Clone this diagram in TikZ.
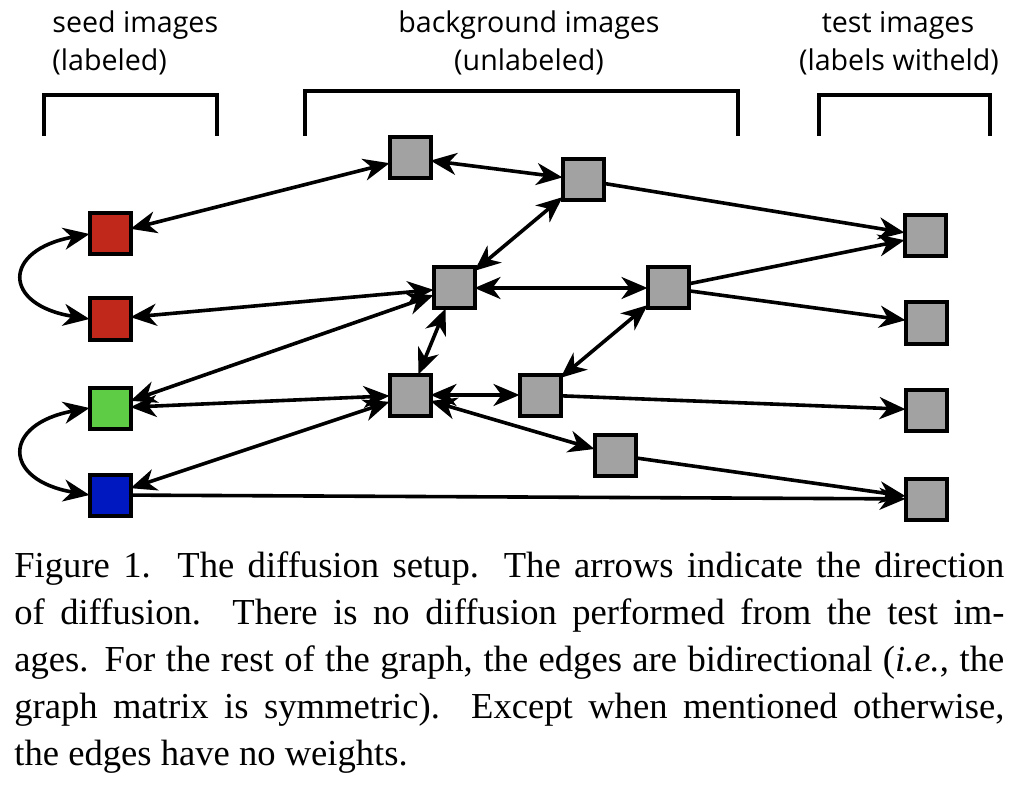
\documentclass[tikz,border=0pt]{standalone}
\usepackage{fontspec}
\setmainfont{Liberation Serif}
\newfontfamily\labfont{Open Sans}
\usetikzlibrary{arrows.meta}
\definecolor{seedred}{HTML}{C0281C}
\definecolor{seedgreen}{HTML}{5ECC44}
\definecolor{seedblue}{HTML}{0018C0}
\definecolor{imggray}{HTML}{A2A2A2}
\begin{document}
\begin{tikzpicture}[x=0.5pt,y=-0.5pt,
  img/.style={draw=black, line width=2pt, minimum size=20.5pt, inner sep=0pt, outer sep=0pt},
  gimg/.style={img, fill=imggray},
  tip/.tip={Stealth[length=13pt,width=11pt,inset=4pt]},
  edge/.style={line width=1.8pt, tip-tip},
  oneway/.style={line width=1.8pt, -tip},
  bracket/.style={line width=2pt},
  lab/.style={font=\labfont\fontsize{14.3pt}{19pt}\selectfont, inner sep=0pt}]
\useasboundingbox (0,0) rectangle (1028,786);

% labels
\node[lab, anchor=base west] (l1a) at (52,33) {seed images};
\node[lab, anchor=base west] (l1b) at (52,71) {(labeled)};
\node[lab, anchor=base] (l2a) at (529,33) {background images};
\node[lab, anchor=base] (l2b) at (529,71) {(unlabeled)};
\node[lab, anchor=base] (l3a) at (898,33) {test images};
\node[lab, anchor=base] (l3b) at (899,71) {(labels witheld)};

% brackets
\draw[bracket] (44,136) -- (44,95) -- (217,95) -- (217,136);
\draw[bracket] (305,136) -- (305,91) -- (738,91) -- (738,136);
\draw[bracket] (819,136) -- (819,95) -- (990,95) -- (990,136);

% seed images
\node[img, fill=seedred] (r1) at (110,234) {};
\node[img, fill=seedred] (r2) at (110,319) {};
\node[img, fill=seedgreen] (gr) at (110,408) {};
\node[img, fill=seedblue] (bl) at (110,495) {};

% background images
\node[gimg] (g1) at (410,158) {};
\node[gimg] (g2) at (583,180) {};
\node[gimg] (g3) at (454,288) {};
\node[gimg] (g4) at (668,288) {};
\node[gimg] (g5) at (410,395) {};
\node[gimg] (g6) at (540,395) {};
\node[gimg] (g7) at (615,455) {};

% test images
\node[gimg] (t1) at (925,236) {};
\node[gimg] (t2) at (926,323) {};
\node[gimg] (t3) at (926,410) {};
\node[gimg] (t4) at (926,499) {};

% edges
\draw[edge] (r1.west) .. controls (2,250) and (2,305) .. (r2.west);
\draw[edge] (gr.west) .. controls (2,424) and (2,480) .. (bl.west);
\draw[edge] (r1) -- (g1);
\draw[edge] (r2) -- (g3);
\draw[edge] (gr) -- (g3);
\draw[edge] (gr) -- (g5);
\draw[edge] (bl) -- (g5);
\draw[oneway] (bl) -- (t4);
\draw[edge] (g1) -- (g2);
\draw[oneway] (g2) -- (t1);
\draw[edge] (g3) -- (g2);
\draw[edge] (g3) -- (g4);
\draw[edge] (g3) -- (g5);
\draw[oneway] (g4) -- (t1);
\draw[oneway] (g4) -- (t2);
\draw[edge] (g6) -- (g4);
\draw[edge] (g5) -- (g6);
\draw[edge] (g5) -- (g7);
\draw[oneway] (g6) -- (t3);
\draw[oneway] (g7) -- (t4);

% caption
\node[anchor=base west, inner sep=0pt, font=\fontsize{18.3pt}{23.5pt}\selectfont] (cap) at (14,577)
 {\parbox[t]{495pt}{Figure 1.\ \ The diffusion setup. The arrows indicate the direction\linebreak
 of diffusion. There is no diffusion performed from the test im-\linebreak
 ages. For the rest of the graph, the edges are bidirectional (\textit{i.e.}, the\linebreak
 graph matrix is symmetric). Except when mentioned otherwise,\linebreak
 the edges have no weights.}};
\end{tikzpicture}
\end{document}
